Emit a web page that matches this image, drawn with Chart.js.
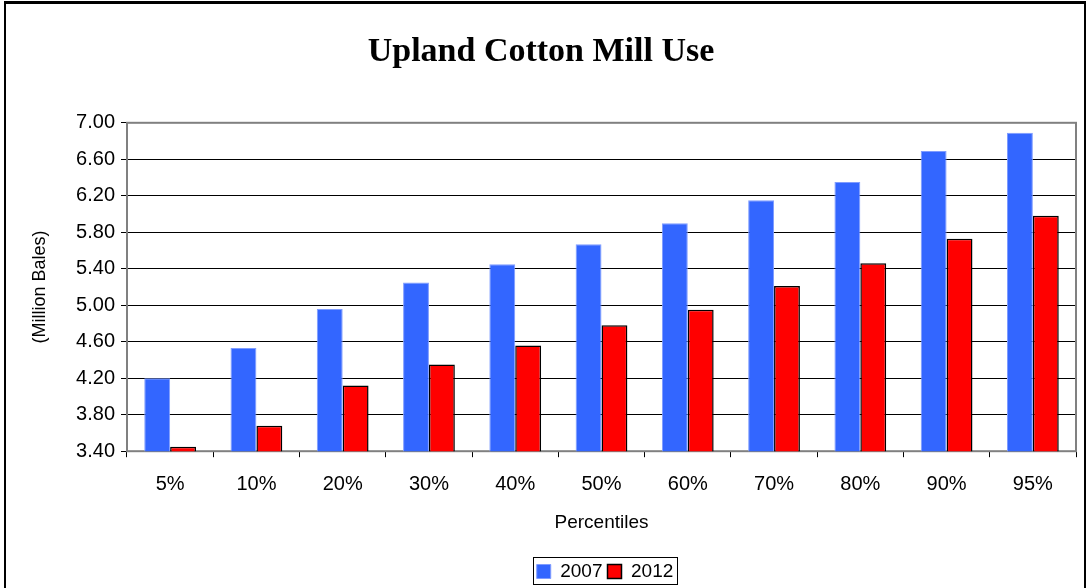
<!DOCTYPE html>
<html>
<head>
<meta charset="utf-8">
<script src="https://cdn.jsdelivr.net/npm/chart.js@4.4.0/dist/chart.umd.min.js"></script>
<style>
  body { margin: 0; background: #fff; overflow: hidden; }
  #frame {
    position: absolute; left: 4px; top: 1px;
    width: 1078px; height: 600px;
    border-left: 2px solid #000; border-top: 3px solid #000; border-right: 2px solid #000;
  }
  #wrap { position: absolute; left: 0; top: 0; width: 1078px; height: 587px; }
</style>
</head>
<body>
<div id="frame"><div id="wrap"><canvas id="myChart"></canvas></div></div>
<script>
var percentiles = ['5%', '10%', '20%', '30%', '40%', '50%', '60%', '70%', '80%', '90%', '95%'];
var use2007 = [4.20, 4.53, 4.96, 5.25, 5.45, 5.67, 5.90, 6.15, 6.35, 6.69, 6.89];
var use2012 = [3.45, 3.68, 4.12, 4.35, 4.56, 4.78, 4.95, 5.21, 5.46, 5.73, 5.98];

var SANS = "'Liberation Sans', Arial, sans-serif";
var legendShift = 64;

// grey plot-area border, legend moved right a bit and boxed
var framePlugin = {
    id: 'framePlugin',
    afterLayout: function(chart) {
        chart.legend.left += legendShift;
        chart.legend.right += legendShift;
    },
    beforeDatasetsDraw: function(chart) {
        var a = chart.chartArea, ctx = chart.ctx;
        ctx.save();
        ctx.strokeStyle = '#808080';
        ctx.lineWidth = 2;
        ctx.strokeRect(a.left, a.top, a.right - a.left, a.bottom - a.top);
        ctx.restore();
    },
    afterDraw: function(chart) {
        var lg = chart.legend, ctx = chart.ctx;
        var w = 144, h = 27;
        var x = Math.round((lg.left + lg.right) / 2 - w / 2) + 0.5;
        var y = Math.round(lg.top) + 0.5;
        ctx.save();
        ctx.strokeStyle = '#000';
        ctx.lineWidth = 1;
        ctx.strokeRect(x, y, w, h);
        ctx.restore();
    }
};

var ctx = document.getElementById('myChart').getContext('2d');
var myChart = new Chart(ctx, {
    type: 'bar',
    data: {
        labels: percentiles,
        datasets: [{
            label: '2007',
            data: use2007,
            backgroundColor: '#3366FF',
            borderColor: '#7f9cff',
            borderWidth: 1
        }, {
            label: '2012',
            data: use2012,
            backgroundColor: '#FF0000',
            borderColor: '#000000',
            borderWidth: 1.5
        }]
    },
    plugins: [framePlugin],
    options: {
        responsive: true,
        maintainAspectRatio: false,
        animation: false,
        categoryPercentage: 0.6,
        barPercentage: 1.0,
        layout: { padding: { left: 0, right: 8, top: 0, bottom: 0 } },
        plugins: {
            title: {
                display: true,
                text: 'Upland Cotton Mill Use',
                color: '#000',
                font: { family: "'Liberation Serif', 'Times New Roman', serif", size: 34, weight: 'bold' },
                padding: { top: 28, bottom: 50 }
            },
            legend: {
                position: 'bottom',
                labels: {
                    color: '#000',
                    font: { family: SANS, size: 19 },
                    boxWidth: 14,
                    boxHeight: 14,
                    padding: 5
                }
            },
            tooltip: { enabled: false }
        },
        scales: {
            x: {
                grid: { offset: true, drawOnChartArea: false, drawTicks: true, tickLength: 6, color: '#000' },
                border: { color: '#000', width: 1 },
                ticks: { color: '#000', font: { family: SANS, size: 20 }, padding: 15 },
                title: { display: true, text: 'Percentiles', color: '#000', font: { family: SANS, size: 19 }, padding: { top: 0, bottom: 23 } }
            },
            y: {
                min: 3.4,
                max: 7.0,
                ticks: {
                    stepSize: 0.4,
                    color: '#000',
                    font: { family: SANS, size: 20 },
                    padding: 6,
                    callback: function(v) { return v.toFixed(2); }
                },
                grid: { color: '#000', tickLength: 6, lineWidth: 1 },
                border: { color: '#000', width: 1 },
                title: { display: true, text: '(Million Bales)', color: '#000', font: { family: SANS, size: 18 }, padding: { top: 23, bottom: 0 } },
                afterFit: function(scale) { scale.width = 121; }
            }
        }
    }
});
</script>
</body>
</html>
